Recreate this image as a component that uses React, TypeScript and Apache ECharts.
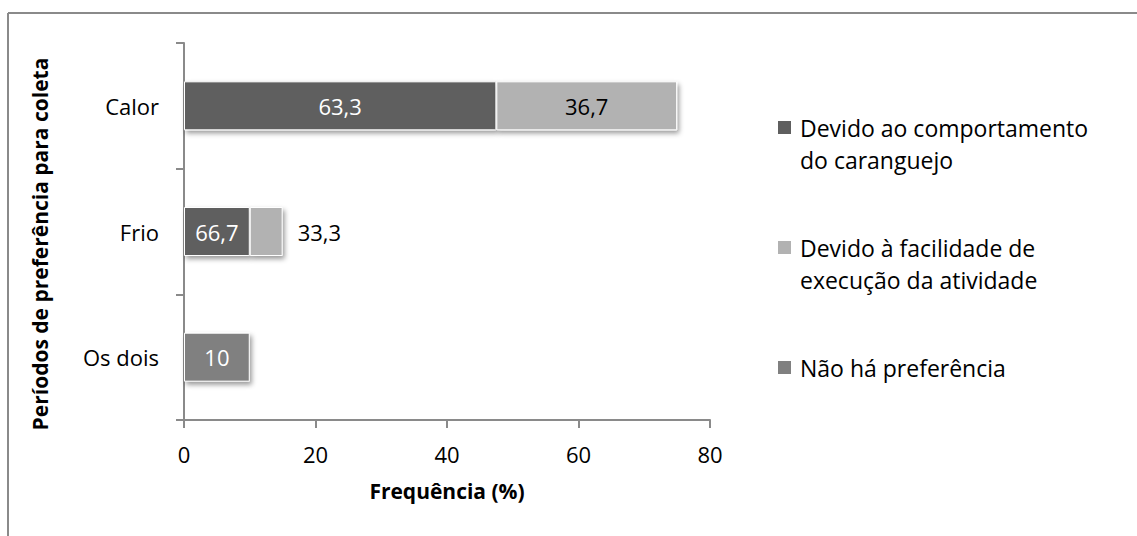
import React, { useEffect, useRef } from 'react';
import * as echarts from 'echarts';

// Categories (top to bottom)
const categories = ['Calor', 'Frio', 'Os dois'];
// Series names
const seriesNames = [
  'Devido ao comportamento\ndo caranguejo',
  'Devido à facilidade de\nexecução da atividade',
  'Não há preferência',
];
// Bar lengths: frequency (%) of interviewees
const comportamento = [47.5, 10, null];
const facilidade = [27.5, 5, null];
const semPreferencia = [null, null, 10];
// Labels: percentage within each period
const comportamentoPct = [63.3, 66.7, null];
const facilidadePct = [36.7, 33.3, null];
const semPreferenciaPct = [null, null, 10];
// Axis ticks
const xMin = 0;
const xMax = 80;
const xStep = 20;

const FONT = 'Open Sans';
const colors = ['#5f5f5f', '#b2b2b2', '#808080'];

const fmt = (v: number | null) => (v == null ? '' : String(v).replace('.', ','));

export default function App() {
  const ref = useRef<HTMLDivElement>(null);

  useEffect(() => {
    document.body.style.margin = '0';
    const chart = echarts.init(ref.current!, null, { renderer: 'svg' });

    const barStyle = (color: string) => ({
      color,
      borderColor: '#ffffff',
      borderWidth: 1,
      shadowBlur: 5,
      shadowOffsetX: 2,
      shadowOffsetY: 3,
      shadowColor: 'rgba(0,0,0,0.4)',
    });

    const LH = 32;
    const legendBase = {
      orient: 'vertical',
      left: 778,
      padding: 0,
      itemWidth: 13,
      itemHeight: 13,
      icon: 'rect',
      itemStyle: { borderWidth: 0, shadowBlur: 0, shadowOffsetX: 0, shadowOffsetY: 0 },
      selectedMode: false,
      formatter: (n: string) => `{t|${n}}`,
    };
    const richT = { t: { fontSize: 23, lineHeight: LH, color: '#000', fontFamily: FONT } };

    const option: any = {
      animation: false,
      backgroundColor: '#ffffff',
      textStyle: { fontFamily: FONT },
      grid: { left: 184, right: 427, top: 43, bottom: 116, containLabel: false, outerBoundsMode: 'none' },
      xAxis: {
        type: 'value',
        min: xMin,
        max: xMax,
        interval: xStep,
        axisLine: { show: true, lineStyle: { color: '#8a8a8a', width: 2 } },
        axisTick: { show: true, length: 8, lineStyle: { color: '#8a8a8a', width: 2 } },
        splitLine: { show: false },
        axisLabel: { fontSize: 22, color: '#000', margin: 23, fontFamily: FONT },
        name: 'Frequência (%)',
        nameLocation: 'middle',
        nameGap: 60,
        nameTextStyle: { fontSize: 21, fontWeight: 'bold', color: '#000', fontFamily: FONT },
      },
      yAxis: {
        type: 'category',
        data: categories,
        inverse: true,
        axisLine: { show: true, lineStyle: { color: '#8a8a8a', width: 2 } },
        axisTick: { show: true, length: 8, lineStyle: { color: '#8a8a8a', width: 2 } },
        splitLine: { show: false },
        axisLabel: { fontSize: 22, color: '#000', margin: 25, fontFamily: FONT },
      },
      legend: [
        {
          ...legendBase,
          top: 116,
          data: [{ name: seriesNames[0] }],
          textStyle: { color: '#000', fontFamily: FONT, padding: [LH, 0, 0, 4], rich: richT },
        },
        {
          ...legendBase,
          top: 236,
          data: [{ name: seriesNames[1] }],
          textStyle: { color: '#000', fontFamily: FONT, padding: [LH, 0, 0, 4], rich: richT },
        },
        {
          ...legendBase,
          top: 356,
          data: [{ name: seriesNames[2] }],
          textStyle: { color: '#000', fontFamily: FONT, padding: [0, 0, 0, 4], rich: richT },
        },
      ],
      graphic: [
        { type: 'line', shape: { x1: 8, y1: 13, x2: 1137, y2: 13 }, style: { stroke: '#8a8a8a', lineWidth: 2 } },
        { type: 'line', shape: { x1: 8, y1: 13, x2: 8, y2: 536 }, style: { stroke: '#8a8a8a', lineWidth: 2 } },
        {
          type: 'text',
          x: 40,
          y: 244,
          rotation: Math.PI / 2,
          style: {
            text: 'Períodos de preferência para coleta',
            font: `bold 21px "${FONT}"`,
            fill: '#000',
            align: 'center',
            verticalAlign: 'middle',
          },
        },
      ],
      series: [
        {
          name: seriesNames[0],
          type: 'bar',
          stack: 'total',
          barWidth: 49,
          data: comportamento,
          itemStyle: barStyle(colors[0]),
          label: {
            show: true,
            position: 'inside',
            color: '#fff',
            fontSize: 22,
            fontFamily: FONT,
            formatter: (p: any) => fmt(comportamentoPct[p.dataIndex]),
          },
        },
        {
          name: seriesNames[1],
          type: 'bar',
          stack: 'total',
          barWidth: 49,
          data: facilidade.map((v) =>
            v != null && v < 8 ? { value: v, label: { position: 'right', distance: 15 } } : v
          ),
          itemStyle: barStyle(colors[1]),
          label: {
            show: true,
            position: 'inside',
            color: '#000',
            fontSize: 22,
            fontFamily: FONT,
            formatter: (p: any) => fmt(facilidadePct[p.dataIndex]),
          },
        },
        {
          name: seriesNames[2],
          type: 'bar',
          stack: 'total',
          barWidth: 49,
          data: semPreferencia,
          itemStyle: barStyle(colors[2]),
          label: {
            show: true,
            position: 'inside',
            color: '#fff',
            fontSize: 22,
            fontFamily: FONT,
            formatter: (p: any) => fmt(semPreferenciaPct[p.dataIndex]),
          },
        },
      ],
    };

    chart.setOption(option);
    return () => chart.dispose();
  }, []);

  return <div ref={ref} style={{ width: 1137, height: 536 }} />;
}
